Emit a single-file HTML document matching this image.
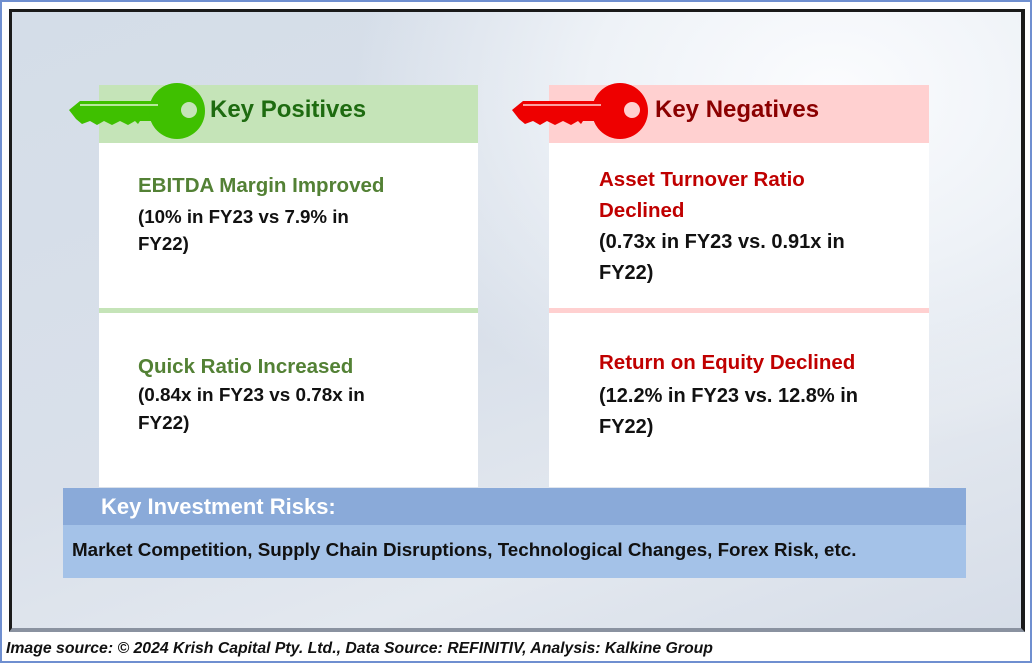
<!DOCTYPE html>
<html><head><meta charset="utf-8"><style>
body{margin:0;width:1032px;height:663px;background:#fff;position:relative;overflow:hidden;font-family:"Liberation Sans",sans-serif}
.outer{position:absolute;left:0;top:0;width:1028px;height:659px;border:2px solid #6f8fd0;border-top:2px solid #6f8fd0}
.frame{position:absolute;left:9px;top:9px;width:1009px;height:616px;border:3px solid #1a1a1a;border-right-width:4px;border-bottom:4px solid #8a92a0;
background:radial-gradient(ellipse 600px 450px at 820px 80px,#fbfcfe 0%,#eef2f7 40%,rgba(214,222,233,0) 80%),linear-gradient(160deg,#d4dde8 0%,#d9e0ea 50%,#e3e8ef 75%,#d6dde8 100%)}
.box{position:absolute;background:#fff}
.t{position:absolute;font-weight:bold;font-size:18px;line-height:28px;white-space:nowrap}
.g{color:#538135}.r{color:#c00000}.k{color:#111}
</style></head><body>
<div class="outer"></div>
<div class="frame"></div>
<div class="box" style="left:99px;top:85px;width:379px;height:402px"></div>
<div style="position:absolute;left:99px;top:85px;width:379px;height:58px;background:#c5e4b8"></div>
<div style="position:absolute;left:99px;top:308px;width:379px;height:5px;background:#c5e4b8"></div>
<div class="box" style="left:549px;top:85px;width:380px;height:402px"></div>
<div style="position:absolute;left:549px;top:85px;width:380px;height:58px;background:#ffd0d0"></div>
<div style="position:absolute;left:549px;top:308px;width:380px;height:5px;background:#ffd0d0"></div>
<svg style="position:absolute;left:0;top:0" width="1032" height="663">
<g fill="#3fc000">
<path d="M69,110 L80,101 L160,101 L160,121 L140,121 L138,124 L135,121 L128,125 L120,121 L112,125 L104,121 L97,125 L90,121 L82,124 L76,119 Z"/>
<circle cx="177" cy="111" r="28"/>
</g>
<line x1="80" y1="105" x2="158" y2="105" stroke="#dff5d0" stroke-width="1.5"/>
<circle cx="189" cy="110" r="8" fill="#c5e4b8"/>
<g fill="#ee0000">
<path d="M512,110 L523,101 L603,101 L603,121 L583,121 L581,124 L578,121 L571,125 L563,121 L555,125 L547,121 L540,125 L533,121 L525,124 L519,119 Z"/>
<circle cx="620" cy="111" r="28"/>
</g>
<line x1="523" y1="105" x2="601" y2="105" stroke="#ffd5d5" stroke-width="1.5"/>
<circle cx="632" cy="110" r="8" fill="#ffd0d0"/>
</svg>
<div class="t" style="left:210px;top:96px;font-size:24px;color:#1e6b10">Key Positives</div>
<div class="t" style="left:655px;top:96px;font-size:24px;color:#8b0000">Key Negatives</div>

<div class="t g" style="left:138px;top:172px;font-size:20.5px">EBITDA Margin Improved</div>
<div class="t k" style="left:138px;top:203px;line-height:27px;font-size:18.7px">(10% in FY23 vs 7.9% in<br>FY22)</div>

<div class="t g" style="left:138px;top:353px;font-size:20.5px">Quick Ratio Increased</div>
<div class="t k" style="left:138px;top:382px;line-height:28px;font-size:18.9px">(0.84x in FY23 vs 0.78x in<br>FY22)</div>

<div class="t r" style="left:599px;top:164px;line-height:31px;font-size:20.5px">Asset Turnover Ratio<br>Declined</div>
<div class="t k" style="left:599px;top:227px;line-height:31px;font-size:20px">(0.73x in FY23 vs. 0.91x in<br>FY22)</div>

<div class="t r" style="left:599px;top:349px;font-size:20.5px">Return on Equity Declined</div>
<div class="t k" style="left:599px;top:381px;line-height:31px;font-size:20px">(12.2% in FY23 vs. 12.8% in<br>FY22)</div>

<div style="position:absolute;left:63px;top:488px;width:903px;height:37px;background:#8aaad9"></div>
<div style="position:absolute;left:63px;top:525px;width:903px;height:53px;background:#a4c2e8"></div>
<div class="t" style="left:101px;top:493px;font-size:22px;color:#fff">Key Investment Risks:</div>
<div class="t k" style="left:72px;top:536px;font-size:18.8px">Market Competition, Supply Chain Disruptions, Technological Changes, Forex Risk, etc.</div>

<div class="t" style="left:6px;top:635px;font-size:15.8px;font-style:italic;color:#111">Image source: © 2024 Krish Capital Pty. Ltd., Data Source: REFINITIV, Analysis: Kalkine Group</div>
</body></html>
